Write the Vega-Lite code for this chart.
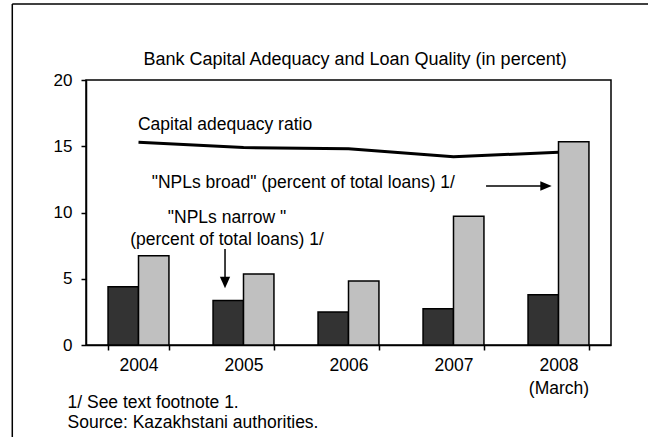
{
  "$schema": "https://vega.github.io/schema/vega-lite/v6.json",
  "width": 525,
  "height": 265,
  "autosize": {"type": "none"},
  "padding": {"left": 86, "top": 80, "right": 37, "bottom": 92},
  "background": "white",
  "config": {
    "view": {"stroke": "black", "strokeWidth": 1.5},
    "font": "Liberation Sans",
    "text": {"font": "Liberation Sans", "fontSize": 17.5, "color": "black"}
  },
  "datasets": {
    "bars": [
      {"year": "2004", "series": "narrow", "value": 4.4},
      {"year": "2004", "series": "broad", "value": 6.74},
      {"year": "2005", "series": "narrow", "value": 3.35},
      {"year": "2005", "series": "broad", "value": 5.36},
      {"year": "2006", "series": "narrow", "value": 2.49},
      {"year": "2006", "series": "broad", "value": 4.83},
      {"year": "2007", "series": "narrow", "value": 2.74},
      {"year": "2007", "series": "broad", "value": 9.72},
      {"year": "2008", "series": "narrow", "value": 3.8},
      {"year": "2008", "series": "broad", "value": 15.34}
    ],
    "ratio": [
      {"year": "2004", "value": 15.3},
      {"year": "2005", "value": 14.9},
      {"year": "2006", "value": 14.82},
      {"year": "2007", "value": 14.2},
      {"year": "2008", "value": 14.55}
    ],
    "frame": [
      {"x": -0.702, "x2": 6, "y": 25.74, "y2": 25.74},
      {"x": -0.702, "x2": -0.702, "y": 25.74, "y2": -8}
    ],
    "arrows": [
      {"x": 3.81, "x2": 4.34, "y": 12.0, "y2": 12.0},
      {"x": 1.324, "x2": 1.324, "y": 7.25, "y2": 5.0}
    ],
    "heads": [
      {"x": 1.324, "y": 4.72, "dir": "down"},
      {"x": 4.381, "y": 12.0, "dir": "right"}
    ],
    "titleText": [
      {"x": 2.562, "y": 21.51, "text": "Bank Capital Adequacy and Loan Quality (in percent)"}
    ],
    "leftNotes": [
      {"x": 0.495, "y": 16.6, "text": "Capital adequacy ratio"}
    ],
    "rightNotes": [
      {"x": 3.514, "y": 12.23, "text": "\"NPLs broad\" (percent of total loans) 1/"}
    ],
    "centerNotes": [
      {"x": 1.343, "y": 9.58, "text": "\"NPLs narrow \""},
      {"x": 1.343, "y": 7.92, "text": "(percent of total loans) 1/"}
    ]
  },
  "layer": [
    {
      "layer": [
        {
          "data": {"name": "bars"},
          "mark": {"type": "bar", "stroke": "black", "strokeWidth": 1.5},
          "encoding": {
            "x": {
              "field": "year",
              "type": "nominal",
              "sort": null,
              "scale": {"paddingInner": 0.42, "paddingOuter": 0.21},
              "axis": {
                "title": ["1/ See text footnote 1.", "Source: Kazakhstani authorities."],
                "titleFontSize": 17.5,
                "titleFontWeight": "normal",
                "titleFont": "Liberation Sans",
                "titleColor": "black",
                "titleAnchor": "start",
                "titleAlign": "left",
                "titleX": -19,
                "titleY": 48,
                "titleBaseline": "top",
                "titleLineHeight": 20,
                "labelAngle": 0,
                "labelFontSize": 17.5,
                "labelFont": "Liberation Sans",
                "labelColor": "black",
                "labelPadding": 6,
                "labelBaseline": "top",
                "labelLineHeight": 23,
                "labelExpr": "datum.value == '2008' ? ['2008', '(March)'] : datum.value",
                "tickBand": "extent",
                "tickSize": 5,
                "tickColor": "black",
                "tickWidth": 1.5,
                "domainColor": "black",
                "domainWidth": 1.5
              }
            },
            "xOffset": {
              "field": "series",
              "type": "nominal",
              "sort": ["narrow", "broad"],
              "scale": {"paddingInner": 0, "paddingOuter": 0}
            },
            "y": {
              "field": "value",
              "type": "quantitative",
              "scale": {"domain": [0, 20], "nice": false},
              "axis": {
                "values": [0, 5, 10, 15, 20],
                "title": null,
                "grid": false,
                "tickSize": 5,
                "tickColor": "black",
                "tickWidth": 1.5,
                "domainColor": "black",
                "domainWidth": 1.5,
                "labelPadding": 9,
                "labelFontSize": 17,
                "labelFont": "Liberation Sans",
                "labelColor": "black"
              }
            },
            "fill": {
              "field": "series",
              "type": "nominal",
              "scale": {"domain": ["narrow", "broad"], "range": ["#333333", "#c0c0c0"]},
              "legend": null
            }
          }
        },
        {
          "data": {"name": "ratio"},
          "mark": {"type": "line", "color": "black", "strokeWidth": 3},
          "encoding": {
            "x": {"field": "year", "type": "nominal", "sort": null},
            "y": {"field": "value", "type": "quantitative"}
          }
        }
      ]
    },
    {
      "layer": [
        {
          "data": {"name": "frame"},
          "mark": {"type": "rule", "color": "black", "strokeWidth": 1.5},
          "encoding": {
            "x": {"field": "x", "type": "quantitative", "scale": {"domain": [0, 5], "nice": false, "zero": false}, "axis": null},
            "x2": {"field": "x2"},
            "y": {"field": "y", "type": "quantitative", "scale": {"domain": [0, 20], "nice": false}},
            "y2": {"field": "y2"}
          }
        },
        {
          "data": {"name": "arrows"},
          "mark": {"type": "rule", "color": "black", "strokeWidth": 1.5},
          "encoding": {
            "x": {"field": "x", "type": "quantitative"},
            "x2": {"field": "x2"},
            "y": {"field": "y", "type": "quantitative"},
            "y2": {"field": "y2"}
          }
        },
        {
          "data": {"name": "heads"},
          "mark": {"type": "point", "filled": true, "color": "black", "opacity": 1, "size": 130},
          "encoding": {
            "x": {"field": "x", "type": "quantitative"},
            "y": {"field": "y", "type": "quantitative"},
            "shape": {
              "field": "dir",
              "type": "nominal",
              "scale": {"domain": ["down", "right"], "range": ["M-0.9,-1L0.9,-1L0,1Z", "M-1,-0.85L1,0L-1,0.85Z"]},
              "legend": null
            }
          }
        },
        {
          "data": {"name": "titleText"},
          "mark": {"type": "text", "align": "center", "baseline": "middle", "fontSize": 18},
          "encoding": {
            "x": {"field": "x", "type": "quantitative"},
            "y": {"field": "y", "type": "quantitative"},
            "text": {"field": "text"}
          }
        },
        {
          "data": {"name": "leftNotes"},
          "mark": {"type": "text", "align": "left", "baseline": "middle"},
          "encoding": {
            "x": {"field": "x", "type": "quantitative"},
            "y": {"field": "y", "type": "quantitative"},
            "text": {"field": "text"}
          }
        },
        {
          "data": {"name": "rightNotes"},
          "mark": {"type": "text", "align": "right", "baseline": "middle"},
          "encoding": {
            "x": {"field": "x", "type": "quantitative"},
            "y": {"field": "y", "type": "quantitative"},
            "text": {"field": "text"}
          }
        },
        {
          "data": {"name": "centerNotes"},
          "mark": {"type": "text", "align": "center", "baseline": "middle"},
          "encoding": {
            "x": {"field": "x", "type": "quantitative"},
            "y": {"field": "y", "type": "quantitative"},
            "text": {"field": "text"}
          }
        }
      ]
    }
  ],
  "resolve": {"scale": {"x": "independent"}}
}
